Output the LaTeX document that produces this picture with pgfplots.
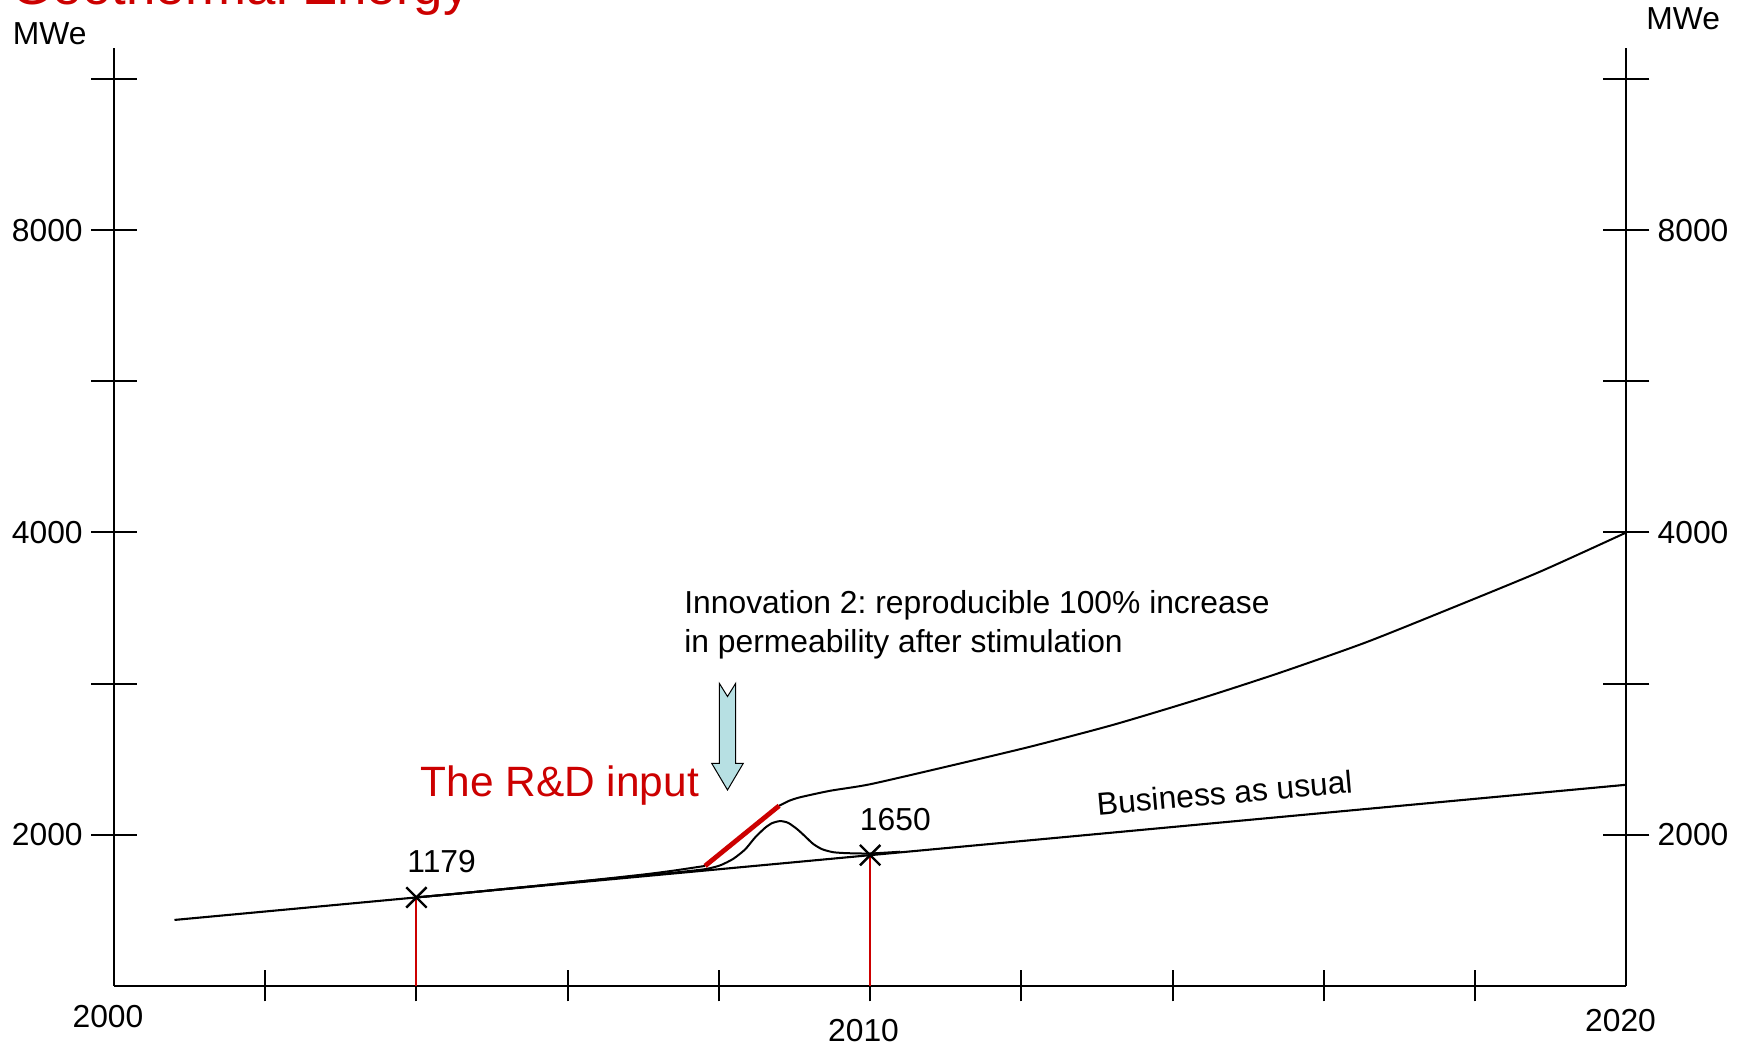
\documentclass[border=0pt]{standalone}
\usepackage{pgfplots}
\pgfplotsset{compat=1.18}
\usepackage{fontspec}
\setmainfont{Liberation Sans}

\definecolor{rdred}{RGB}{204,0,0}
\definecolor{arrowfill}{RGB}{183,224,227}
\newcommand\lab{\fontsize{15.9}{19}\selectfont}

\begin{document}
\frenchspacing
\begin{tikzpicture}
\useasboundingbox (0,0) rectangle (873pt,523pt);

% time axis and the three scenarios
\begin{axis}[at={(57pt,30pt)}, anchor=south west, scale only axis,
  width=756.15pt, height=469pt,
  xmin=2000, xmax=2020,
  ymode=log, log basis y=2, ymin=1414.21, ymax=12148,
  axis line style={line width=1pt},
  tick style={line width=1pt, black},
  tick align=center, clip=false,
  axis x line*=bottom, axis y line=none, ytick=\empty,
  xtick={2002,2004,...,2018}, xticklabels={},
  major tick length=15.5pt]

  % business as usual
  \addplot[black, line width=1.05pt, mark=none]
    coordinates {(2000.8,1645.5) (2020,2243.2)};

  % temporary gain without reproducible stimulation
  \addplot[black, line width=1pt, mark=none, smooth, tension=0.4]
    coordinates {
      (2004,1732.6) (2004.577,1748.7) (2005.106,1764.8) (2005.635,1780.7)
      (2006.164,1797.5) (2006.693,1812.9) (2007.090,1824.6) (2007.421,1834.6)
      (2007.817,1848.6) (2008.016,1864.8) (2008.188,1892.8) (2008.347,1934.5)
      (2008.479,1988.6) (2008.611,2032.4) (2008.704,2054.4) (2008.810,2063.9)
      (2008.915,2055.8) (2009.034,2026.3) (2009.140,1993.1) (2009.246,1959.1)
      (2009.365,1935.4) (2009.511,1922.1) (2009.696,1917.7) (2010.000,1916.4)
      (2010.397,1924.3)};

  % innovation path, before and after the R&D input
  \addplot[black, line width=1pt, mark=none, smooth, tension=0.4]
    coordinates {
      (2004,1732.6) (2004.577,1748.7) (2005.106,1764.8) (2005.635,1780.7)
      (2006.164,1797.5) (2006.693,1815.4) (2007.090,1829.6) (2007.421,1843.5)
      (2007.817,1862.6)};
  \addplot[black, line width=1pt, mark=none, smooth, tension=0.4]
    coordinates {
      (2008.796,2137.7) (2008.929,2162.3) (2009.074,2179.8) (2009.471,2212.5)
      (2010.000,2245.8) (2011.005,2337.8) (2012.116,2447.7) (2013.221,2574.4)
      (2014.365,2732.7) (2015.423,2900.8) (2016.548,3107.6) (2017.639,3352.0)
      (2018.862,3657.6) (2020,4000)};

  % the R&D input
  \addplot[rdred, line width=2.4pt, mark=none]
    coordinates {(2007.817,1862.6) (2008.796,2137.7)};

  % drop lines to the time axis
  \addplot[rdred, line width=1pt, mark=none]
    coordinates {(2004,1732.6) (2004,1414.21)};
  \addplot[rdred, line width=1pt, mark=none]
    coordinates {(2010,1909.0) (2010,1414.21)};

  % observed capacities
  \addplot[black, only marks, mark=x, mark size=7.2pt,
    mark options={line width=1.2pt},
    point meta=explicit symbolic, nodes near coords,
    nodes near coords style={font=\lab, anchor=base,
      inner sep=0pt, xshift=12.6pt, yshift=12.5pt}]
    coordinates {(2004,1732.6) [1179] (2010,1909.0) [1650]};
\end{axis}

% left MWe scale
\begin{axis}[at={(57pt,30pt)}, anchor=south west, scale only axis,
  width=756.15pt, height=469pt,
  xmin=2000, xmax=2020,
  ymode=log, log basis y=2, ymin=1414.21, ymax=12148,
  axis line style={line width=1pt},
  tick style={line width=1pt, black},
  tick align=center,
  axis x line=none, xtick=\empty, axis y line*=left,
  ytick={2000,2828.43,4000,5656.85,8000,11313.71},
  yticklabels={2000,,4000,,8000,},
  major tick length=23pt,
  yticklabel style={font=\lab, inner sep=0pt, anchor=east, xshift=-4pt}]
\end{axis}

% right MWe scale
\begin{axis}[at={(57pt,30pt)}, anchor=south west, scale only axis,
  width=756.15pt, height=469pt,
  xmin=2000, xmax=2020,
  ymode=log, log basis y=2, ymin=1414.21, ymax=12148,
  axis line style={line width=1pt},
  tick style={line width=1pt, black},
  tick align=center,
  axis x line=none, xtick=\empty, axis y line*=right,
  ytick={2000,2828.43,4000,5656.85,8000,11313.71},
  yticklabels={2000,,4000,,8000,},
  major tick length=23pt,
  yticklabel style={font=\lab, inner sep=0pt, anchor=west, xshift=4pt}]
\end{axis}

% annotations, placed in a top-down frame of half points
\begin{scope}[x=0.5pt, y=-0.5pt, shift={(0,523pt)}]
  \node[anchor=base west, inner sep=0pt, text=rdred,
    font=\fontsize{26.4}{30}\selectfont] at (11.5,4.5) {Geothermal Energy};
  \node[anchor=base west, inner sep=0pt, font=\lab] at (12.5,45) {MWe};
  \node[anchor=base west, inner sep=0pt, font=\lab] at (1646,29.3) {MWe};

  \node[anchor=base, inner sep=0pt, font=\lab] at (108,1027.7) {2000};
  \node[anchor=base, inner sep=0pt, font=\lab] at (863.5,1041.7) {2010};
  \node[anchor=base, inner sep=0pt, font=\lab] at (1620.5,1031.7) {2020};

  \node[anchor=base west, inner sep=0pt, font=\lab] at (684,613.5)
    {Innovation 2: reproducible 100\% increase};
  \node[anchor=base west, inner sep=0pt, font=\lab] at (684,652.5)
    {in permeability after stimulation};

  \node[anchor=base west, inner sep=0pt, text=rdred,
    font=\fontsize{21.2}{25}\selectfont] at (420.5,796) {The R\&D input};

  \node[anchor=base west, inner sep=0pt, font=\lab, rotate=5]
    at (1097.5,815.2) {Business as usual};

  % block arrow pointing at the R&D input
  \draw[fill=arrowfill, draw=black, line width=0.5pt, line join=miter]
    (719.3,683.3) -- (727.5,696.5) -- (735.7,683.3) -- (735.7,763.3)
    -- (743.3,763.3) -- (727.5,790) -- (711.7,763.3) -- (719.3,763.3) -- cycle;
\end{scope}
\end{tikzpicture}
\end{document}
